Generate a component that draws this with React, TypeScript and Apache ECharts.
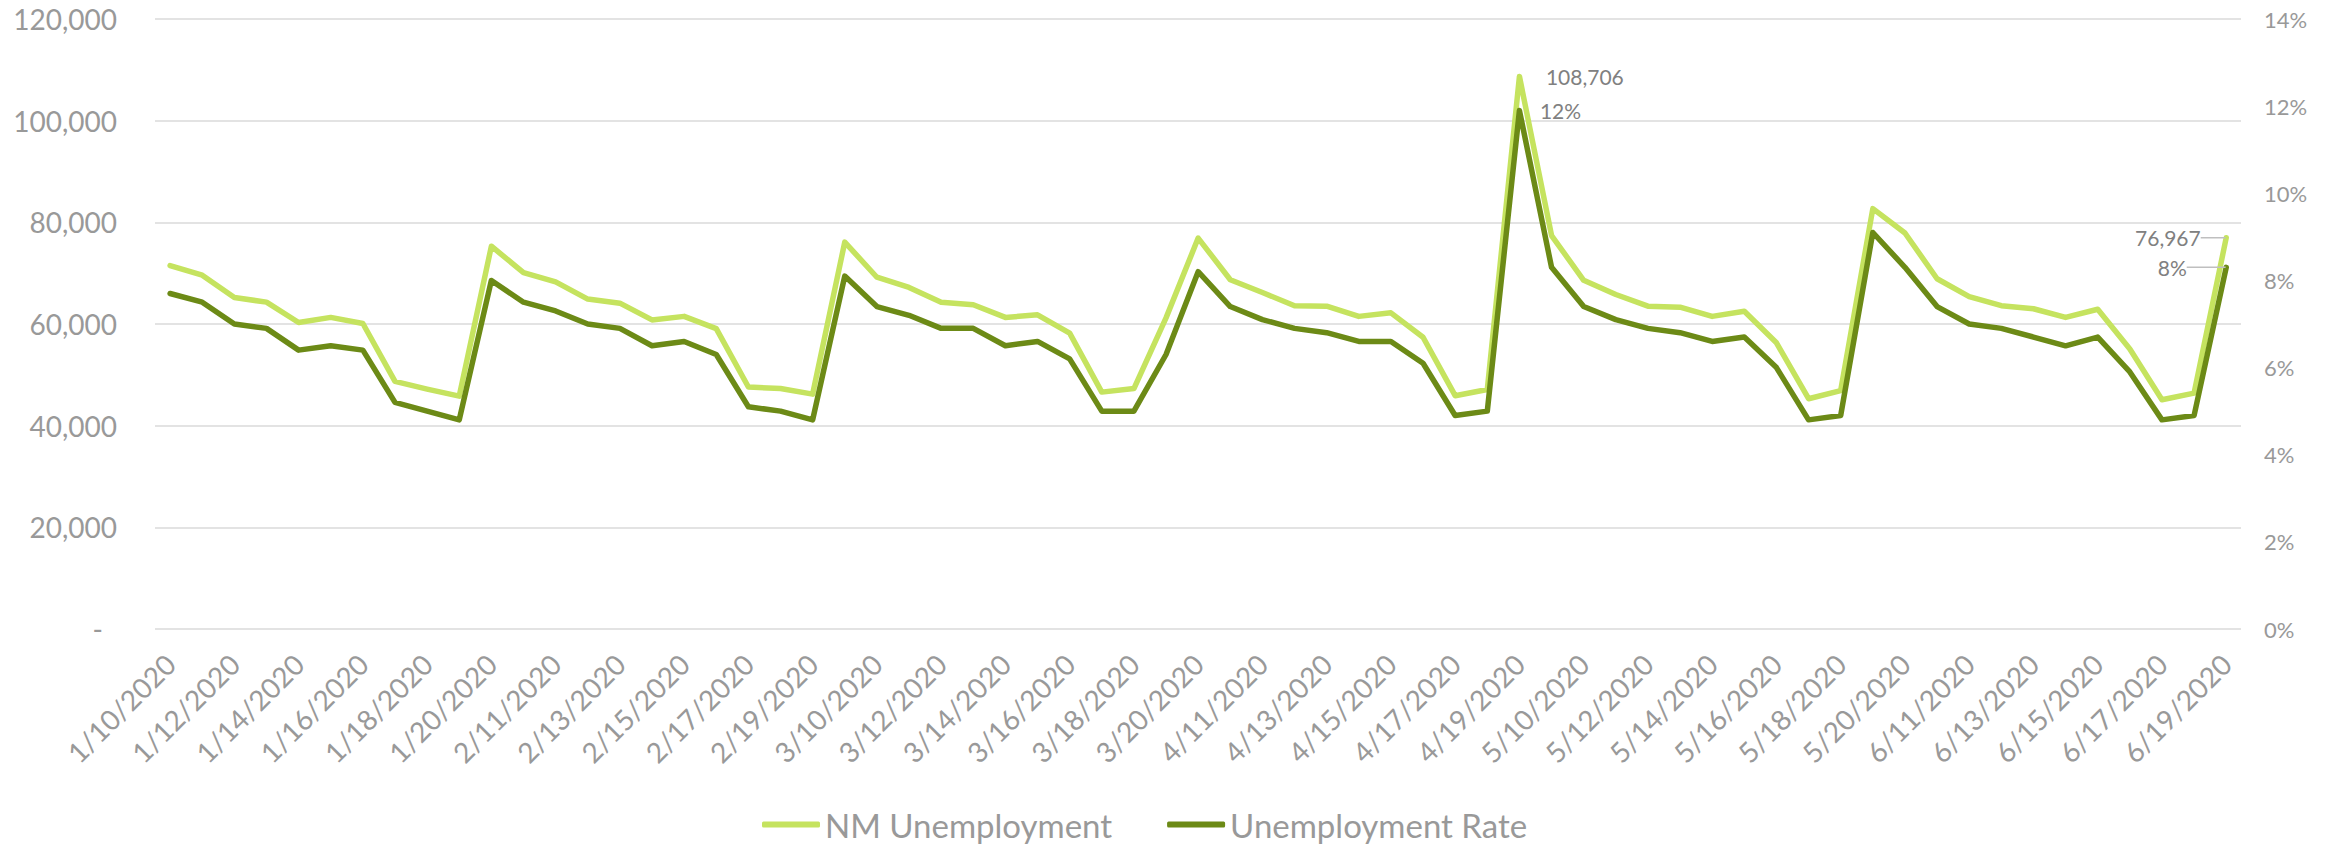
import React, { useEffect, useRef } from 'react';
import * as echarts from 'echarts';

// Category labels (x axis)
const categories: string[] = [
  '1/10/2020', '1/11/2020', '1/12/2020', '1/13/2020', '1/14/2020', '1/15/2020', '1/16/2020', '1/17/2020', '1/18/2020', '1/19/2020', '1/20/2020',
  '2/10/2020', '2/11/2020', '2/12/2020', '2/13/2020', '2/14/2020', '2/15/2020', '2/16/2020', '2/17/2020', '2/18/2020', '2/19/2020', '2/20/2020',
  '3/10/2020', '3/11/2020', '3/12/2020', '3/13/2020', '3/14/2020', '3/15/2020', '3/16/2020', '3/17/2020', '3/18/2020', '3/19/2020', '3/20/2020',
  '4/10/2020', '4/11/2020', '4/12/2020', '4/13/2020', '4/14/2020', '4/15/2020', '4/16/2020', '4/17/2020', '4/18/2020', '4/19/2020', '4/20/2020',
  '5/10/2020', '5/11/2020', '5/12/2020', '5/13/2020', '5/14/2020', '5/15/2020', '5/16/2020', '5/17/2020', '5/18/2020', '5/19/2020', '5/20/2020',
  '6/10/2020', '6/11/2020', '6/12/2020', '6/13/2020', '6/14/2020', '6/15/2020', '6/16/2020', '6/17/2020', '6/18/2020', '6/19/2020',
];

// NM Unemployment (left axis, persons)
const nmUnemployment: number[] = [
  71500, 69600, 65200, 64300, 60300, 61300, 60100, 48700, 47200, 45800, 75300,
  70100, 68300, 64900, 64100, 60800, 61500, 59100, 47600, 47300, 46200, 76100,
  69200, 67200, 64300, 63800, 61300, 61800, 58200, 46600, 47300, 61200, 76900,
  68700, 66200, 63600, 63500, 61500, 62200, 57400, 45900, 47100, 108706, 77400,
  68600, 65800, 63500, 63300, 61500, 62500, 56300, 45300, 46900, 82700, 77900,
  68900, 65400, 63600, 63000, 61300, 62900, 55100, 45100, 46400, 76967,
];

// Unemployment Rate (right axis, %)
const unemploymentRate: number[] = [
  7.7, 7.5, 7.0, 6.9, 6.4, 6.5, 6.4, 5.2, 5.0, 4.8, 8.0,
  7.5, 7.3, 7.0, 6.9, 6.5, 6.6, 6.3, 5.1, 5.0, 4.8, 8.1,
  7.4, 7.2, 6.9, 6.9, 6.5, 6.6, 6.2, 5.0, 5.0, 6.3, 8.2,
  7.4, 7.1, 6.9, 6.8, 6.6, 6.6, 6.1, 4.9, 5.0, 11.9, 8.3,
  7.4, 7.1, 6.9, 6.8, 6.6, 6.7, 6.0, 4.8, 4.9, 9.1, 8.3,
  7.4, 7.0, 6.9, 6.7, 6.5, 6.7, 5.9, 4.8, 4.9, 8.3,
];

// Every other category gets a tick label
const labelIndices: number[] = categories.map((_, i) => i).filter((i) => i % 2 === 0);

const peakIndex = 42;
const lastIndex = categories.length - 1;

const LIGHT = '#C5E35F';
const DARK = '#6C8A16';
const AXIS_TEXT = '#999999';
const LABEL_TEXT = '#808080';
const FONT = 'Lato, "Noto Sans", sans-serif';

const fmtThousands = (v: number) => v.toLocaleString('en-US');
const fmtPct = (v: number) => `${Math.round(v)}%`;

export default function App() {
  const ref = useRef<HTMLDivElement>(null);

  useEffect(() => {
    if (!ref.current) return;
    const chart = echarts.init(ref.current, undefined, { renderer: 'svg' });

    const pointLabel = (i: number, kind: 'nm' | 'rate') => {
      if (i === peakIndex) {
        return {
          label: {
            show: true,
            position: 'right',
            distance: kind === 'nm' ? 26 : 20,
            fontSize: 21,
            color: LABEL_TEXT,
            fontFamily: FONT,
            formatter: (p: any) => (kind === 'nm' ? fmtThousands(p.value[1]) : fmtPct(p.value[1])),
          },
        };
      }
      if (i === lastIndex) {
        return {
          label: {
            show: true,
            position: 'left',
            distance: kind === 'nm' ? 24 : 38,
            offset: [0, kind === 'nm' ? -5 : 5],
            fontSize: 21,
            color: LABEL_TEXT,
            fontFamily: FONT,
            formatter: (p: any) => (kind === 'nm' ? fmtThousands(p.value[1]) : fmtPct(p.value[1])),
          },
          labelLine: { show: true, smooth: 0.3, lineStyle: { color: '#BFBFBF', width: 1.5 } },
        };
      }
      return {};
    };

    const guideLayout = (p: any) =>
      p.dataIndex === lastIndex ? { dx: -1, dy: 0 } : {};

    const option: any = {
      animation: false,
      backgroundColor: '#ffffff',
      textStyle: { fontFamily: FONT },
      grid: { left: 155, top: 19, width: 2086, height: 610, containLabel: false },
      legend: {
        left: 757,
        top: 803,
        icon: 'roundRect',
        itemWidth: 58,
        itemHeight: 6,
        itemGap: 55,
        textStyle: { fontSize: 33, color: AXIS_TEXT, fontFamily: FONT },
        data: ['NM Unemployment', 'Unemployment Rate'],
      },
      xAxis: {
        type: 'value',
        min: -0.47,
        max: lastIndex + 0.46,
        axisLine: { show: false },
        axisTick: { show: false },
        splitLine: { show: false },
        axisLabel: {
          customValues: labelIndices,
          formatter: (v: number) => categories[Math.round(v)] ?? '',
          rotate: 45,
          fontSize: 28,
          color: AXIS_TEXT,
          fontFamily: FONT,
          margin: 30,
        },
      },
      yAxis: [
        {
          type: 'value',
          min: 0,
          max: 120000,
          interval: 20000,
          position: 'left',
          axisLine: { show: false },
          axisTick: { show: false },
          splitLine: { show: true, lineStyle: { color: '#E3E3E3', width: 2 } },
          axisLabel: {
            fontSize: 28,
            color: AXIS_TEXT,
            fontFamily: FONT,
            margin: 38,
            formatter: (v: number) => (v === 0 ? '{z|-}' : fmtThousands(v)),
            rich: { z: { fontSize: 28, color: AXIS_TEXT, fontFamily: FONT, padding: [0, 14, 0, 0] } },
          },
        },
        {
          type: 'value',
          min: 0,
          max: 14,
          interval: 2,
          position: 'right',
          axisLine: { show: false },
          axisTick: { show: false },
          splitLine: { show: false },
          axisLabel: {
            fontSize: 22,
            color: AXIS_TEXT,
            fontFamily: FONT,
            margin: 23,
            formatter: (v: number) => `${v}%`,
          },
        },
      ],
      series: [
        {
          name: 'NM Unemployment',
          type: 'line',
          yAxisIndex: 0,
          data: nmUnemployment.map((v, i) => ({ value: [i, v], ...pointLabel(i, 'nm') })),
          symbol: 'circle',
          symbolSize: 1,
          showSymbol: true,
          itemStyle: { color: LIGHT },
          lineStyle: { color: LIGHT, width: 5.5, cap: 'round', join: 'round' },
          labelLayout: guideLayout,
          emphasis: { disabled: true },
          z: 2,
        },
        {
          name: 'Unemployment Rate',
          type: 'line',
          yAxisIndex: 1,
          data: unemploymentRate.map((v, i) => ({ value: [i, v], ...pointLabel(i, 'rate') })),
          symbol: 'circle',
          symbolSize: 1,
          showSymbol: true,
          itemStyle: { color: DARK },
          lineStyle: { color: DARK, width: 5.5, cap: 'round', join: 'round' },
          labelLayout: guideLayout,
          emphasis: { disabled: true },
          z: 3,
        },
      ],
    };

    chart.setOption(option);
    return () => chart.dispose();
  }, []);

  return (
    <div
      ref={ref}
      style={{ position: 'fixed', left: 0, top: 0, width: 2333, height: 844, background: '#fff' }}
    />
  );
}
